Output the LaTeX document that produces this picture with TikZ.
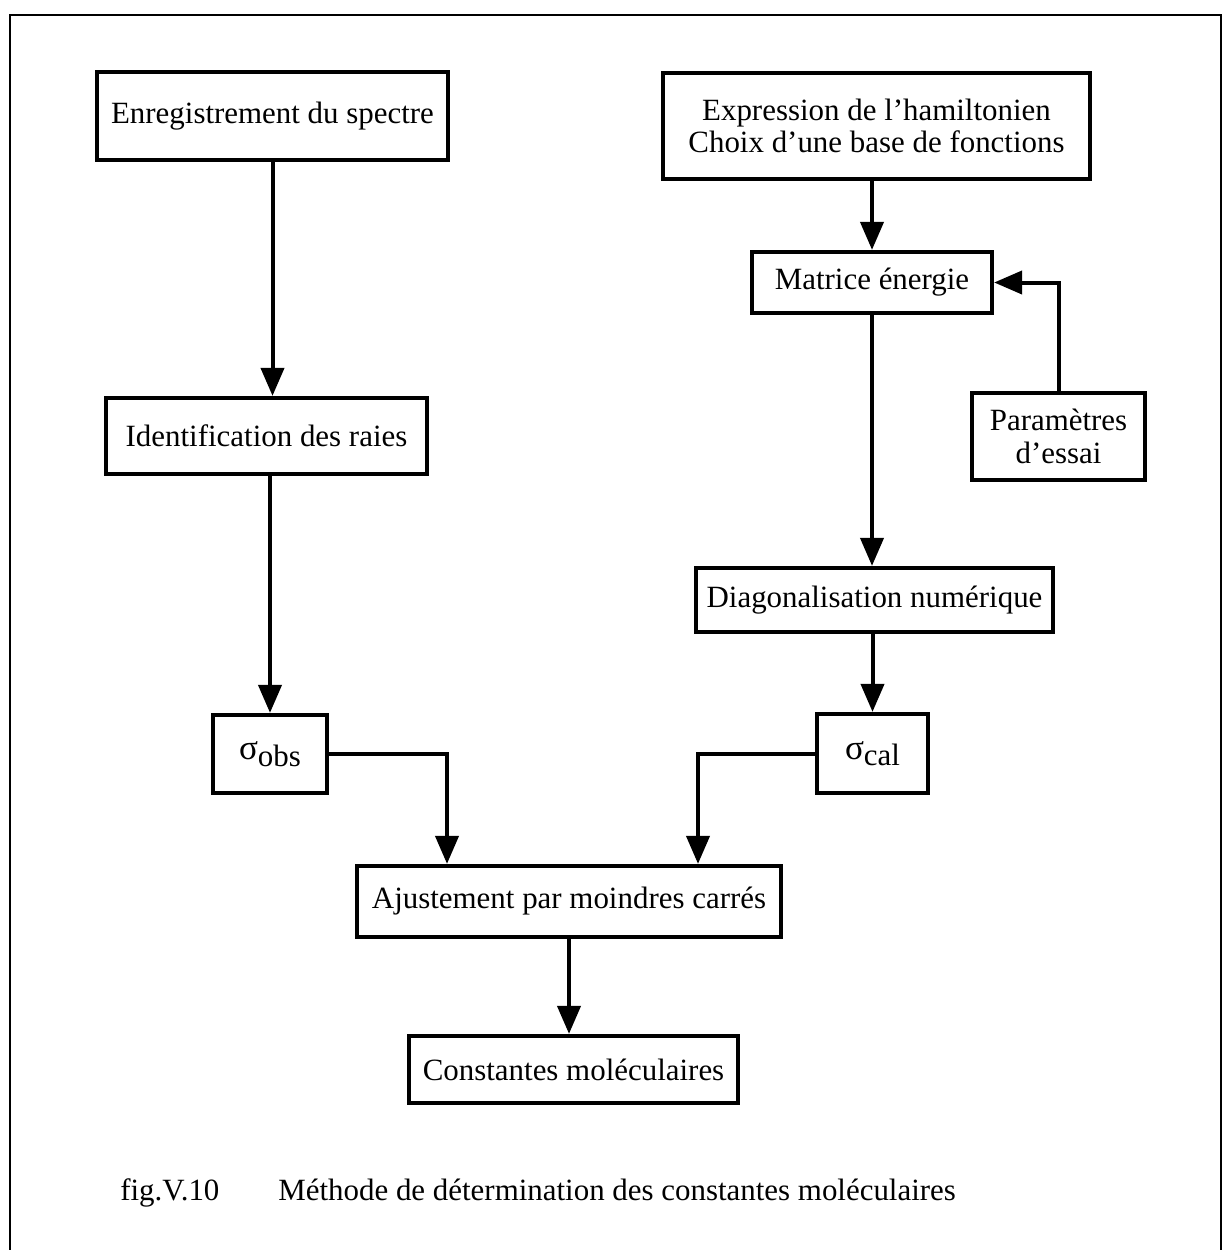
\documentclass[tikz,border=0pt]{standalone}
\usepackage{fontspec}
\setmainfont{Liberation Serif}
\usetikzlibrary{arrows.meta}
\begin{document}
\begin{tikzpicture}[x=0.02cm,y=-0.02cm,
  box/.style={draw, line width=0.085cm, inner sep=0pt, align=center, font=\fontsize{17.6}{17.6}\selectfont},
  sz/.style 2 args={minimum width=#1*0.02cm, minimum height=#2*0.02cm},
  arr/.style={line width=0.08cm, -{Triangle[width=0.46cm,length=0.56cm]}},
  txt/.style={anchor=base west, inner sep=0pt, font=\fontsize{17.6}{17.6}\selectfont}]
\clip (0,0) rectangle (1225,1250);
\fill[white] (0,0) rectangle (1225,1250);
% outer frame, open at the bottom
\draw[line width=0.05cm] (10,1260) -- (10,15) -- (1221,15) -- (1221,1260);

% left column
\node[box, sz={351}{88}] (enr) at (272.5,116) {\raisebox{-0.2ex}{Enregistrement du spectre}};
\node[box, sz={321}{76}] (ident) at (266.5,436) {Identification des raies};
\node[box, sz={114}{78}] (sobs) at (270,754) {{\fontsize{20}{20}\selectfont σ}\raisebox{-0.45ex}{obs}};

% right column
\node[box, sz={427}{106}, font=\fontsize{17.6}{18.5}\selectfont] (expr) at (876.5,126)
  {Expression de l'hamiltonien\\Choix d'une base de fonctions};
\node[box, sz={240}{61}] (mat) at (872,282.5) {Matrice énergie};
\node[box, sz={173}{87}, font=\fontsize{17.6}{19}\selectfont] (param) at (1058.5,436.5)
  {Paramètres\\d'essai};
\node[box, sz={357}{64}] (diag) at (874.5,600) {Diagonalisation numérique};
\node[box, sz={111}{79}] (scal) at (872.5,753.5) {{\fontsize{20}{20}\selectfont σ}\raisebox{-0.45ex}{cal}};

% bottom
\node[box, sz={424}{71}] (ajust) at (569,901.5) {Ajustement par moindres carrés};
\node[box, sz={329}{67}] (const) at (573.5,1069.5) {Constantes moléculaires};

% junction columns for the two merging links
\coordinate (kL) at (447,0);
\coordinate (kR) at (698,0);

% connectors
\draw[arr] (enr.south) -- (enr.south |- ident.north);
\draw[arr] (sobs.north |- ident.south) -- (sobs.north);
\draw[arr] (mat.north |- expr.south) -- (mat.north);
\draw[arr] (mat.south) -- (mat.south |- diag.north);
\draw[arr] (scal.north |- diag.south) -- (scal.north);
\draw[arr] (param.north) |- (mat.east);
\draw[arr] (sobs.east) -| (kL |- ajust.north);
\draw[arr] (scal.west) -| (kR |- ajust.north);
\draw[arr] (ajust.south) -- (ajust.south |- const.north);

% caption
\node[txt] (fig) at (120,1200) {fig.V.10};
\node[txt] (cap) at (278,1200) {Méthode de détermination des constantes moléculaires};
\end{tikzpicture}
\end{document}
